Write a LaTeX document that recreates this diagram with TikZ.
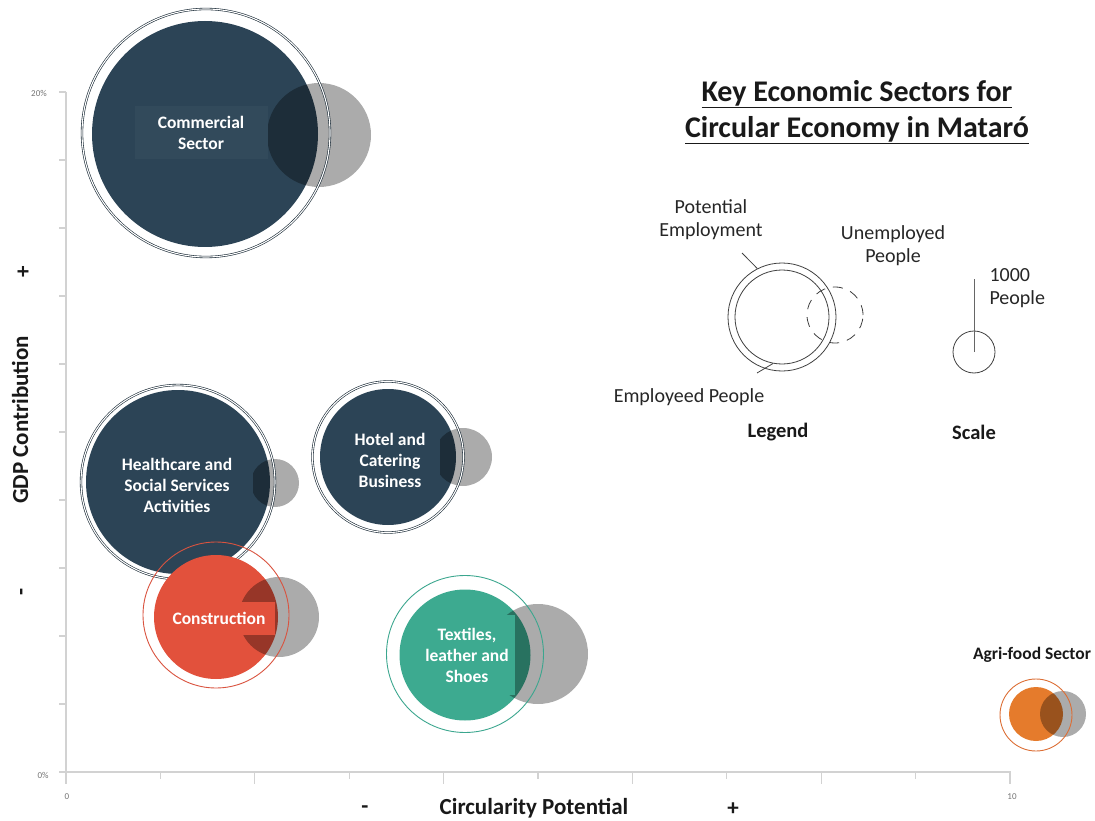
\documentclass[tikz,border=0pt]{standalone}
\usepackage{fontspec}
\setmainfont{Carlito}
\definecolor{navy}{HTML}{2C4456}
\definecolor{navydk}{HTML}{1A2A36}
\definecolor{redc}{HTML}{E2513C}
\definecolor{redring}{HTML}{D9533F}
\definecolor{teal}{HTML}{3DAA90}
\definecolor{tealring}{HTML}{3BA68E}
\definecolor{orng}{HTML}{E57B2C}
\definecolor{orngring}{HTML}{DC6E35}
\definecolor{unempgray}{HTML}{ABABAB}
\definecolor{axgray}{HTML}{D2D2D2}
\tikzset{
  disc/.style={circle,inner sep=0pt,minimum size=#1},
  ring/.style={circle,inner sep=0pt,minimum size=#1,draw,line width=0.9pt},
  navyring/.style={circle,inner sep=0pt,minimum size=#1,draw=navydk,line width=0.6pt,double=white,double distance=1.1pt},
  unemp/.style={circle,inner sep=0pt,minimum size=#1,fill=unempgray},
  tbox/.style={align=center,text=white,font=\bfseries\fontsize{17.5}{21}\selectfont,inner sep=0pt},
  axlbl/.style={font=\bfseries\fontsize{23}{26}\selectfont,text=black!90,inner sep=1pt},
  ticklbl/.style={font=\fontsize{9}{10}\selectfont,text=black!55},
  legtxt/.style={font=\fontsize{20}{23}\selectfont,text=black!85,align=center},
  legline/.style={draw=black!75,line width=0.8pt},
  axline/.style={draw=axgray,line width=1.2pt}
}
\begin{document}
\begin{tikzpicture}[x=1pt,y=-1pt]
\useasboundingbox (0,0) rectangle (1095,821);
% axes
\draw[axline] (66,92) -- (66,772) -- (1011,772);
\foreach \k in {0,2,...,10} \draw[axline] (66+94.4*\k,772) -- (66+94.4*\k,784);
\foreach \k in {1,3,...,9} \draw[axline] (66+94.4*\k,772) -- (66+94.4*\k,779);
\foreach \k in {0,...,10} \draw[axline] (66,772-68*\k) -- (59,772-68*\k);
\node[ticklbl] (y20) at (39,93) {20\%};
\node[ticklbl] (y0) at (43,775) {0\%};
\node[ticklbl] (x0) at (67,797) {0};
\node[ticklbl] (x10) at (1012,797) {10};
\node[axlbl,rotate=90] (ylab) at (20,420) {GDP Contribution};
\node[axlbl,rotate=90] (yplus) at (24,272) {+};
\node[axlbl,rotate=90] (yminus) at (24,592) {-};
\node[axlbl] (xlab) at (534,808) {Circularity Potential};
\node[axlbl] (xminus) at (365,810) {-};
\node[axlbl] (xplus) at (733,809) {+};
% title
\node[align=center,font=\bfseries\fontsize{30}{36}\selectfont,text=black!90] (title) at (857,112)
  {\underline{Key Economic Sectors for}\\\underline{Circular Economy in Matar\'o}};
% commercial sector
\node[disc=226,fill=navy] (com) at (205,134) {};
\begin{scope}[blend mode=multiply]
\node[unemp=104] (comu) at (319,135) {};
\end{scope}
\node[tbox,fill=navy!97!white,minimum width=133,minimum height=53] (comt) at (201,133) {Commercial\\Sector};
\node[navyring=248] (comr) at (206,133) {};
% healthcare
\node[disc=184,fill=navy] (hea) at (178,482) {};
\begin{scope}[blend mode=multiply]
\node[unemp=48] (heau) at (275,483) {};
\end{scope}
\node[tbox,fill=navy,minimum width=152,minimum height=70] (heat) at (177,485) {Healthcare and\\Social Services\\Activities};
\node[navyring=194] (hear) at (178,482) {};
% hotel
\node[disc=136,fill=navy] (hot) at (388,457) {};
\begin{scope}[blend mode=multiply]
\node[unemp=58] (hotu) at (463,457) {};
\end{scope}
\node[tbox,fill=navy,minimum width=100,minimum height=70] (hott) at (390,460) {Hotel and\\Catering\\Business};
\node[navyring=151] (hotr) at (388,457) {};
% construction
\node[disc=124,fill=redc] (con) at (216,617) {};
\begin{scope}[blend mode=multiply]
\node[unemp=80] (conu) at (279,617) {};
\end{scope}
\node[tbox,fill=redc,minimum width=112,minimum height=33] (cont) at (219,618) {Construction};
\node[ring=146,draw=redring] (conr) at (216,615) {};
% textiles
\node[disc=131,fill=teal] (tex) at (465,655) {};
\begin{scope}[blend mode=multiply]
\node[unemp=100] (texu) at (538,654) {};
\end{scope}
\node[tbox,fill=teal,minimum width=96,minimum height=80] (text) at (467,655) {Textiles,\\leather and\\Shoes};
\node[ring=157,draw=tealring] (texr) at (465,654) {};
% agri-food
\node[disc=54,fill=orng] (agr) at (1036,714) {};
\begin{scope}[blend mode=multiply]
\node[unemp=46] (agru) at (1063,714) {};
\end{scope}
\node[ring=72,draw=orngring] (agrr) at (1036,715) {};
\node[font=\bfseries\fontsize{17.5}{20}\selectfont,text=black!90] (agrt) at (1032,655) {Agri-food Sector};
% legend
\node[circle,inner sep=0pt,minimum size=108,legline] (lgo) at (782,317) {};
\node[circle,inner sep=0pt,minimum size=94,legline] (lgi) at (782,317) {};
\node[circle,inner sep=0pt,minimum size=56,legline,dash pattern=on 10pt off 8pt] (lgu) at (835,315) {};
\node[legtxt] (pe) at (711,220) {Potential\\Employment};
\node[legtxt] (up) at (893,246) {Unemployed\\People};
\node[legtxt] (ep) at (689,397) {Employeed People};
\coordinate (pet) at (742,253);
\coordinate (ept) at (757,373);
\draw[legline] (pet) -- (lgo.117);
\draw[legline] (ept) -- (lgi.259);
\node[font=\bfseries\fontsize{20.5}{23}\selectfont,text=black!90] (leg) at (778,432) {Legend};
% scale
\node[circle,inner sep=0pt,minimum size=42,legline] (sc) at (974,352) {};
\coordinate (sct) at (974,279);
\draw[legline,draw=black!60,line width=1pt] (sc.center) -- (sct);
\node[legtxt,align=left,anchor=west] (scl) at (986,288) {1000\\People};
\node[font=\bfseries\fontsize{20.5}{23}\selectfont,text=black!90] (scn) at (974,432) {Scale};
\end{tikzpicture}
\end{document}
